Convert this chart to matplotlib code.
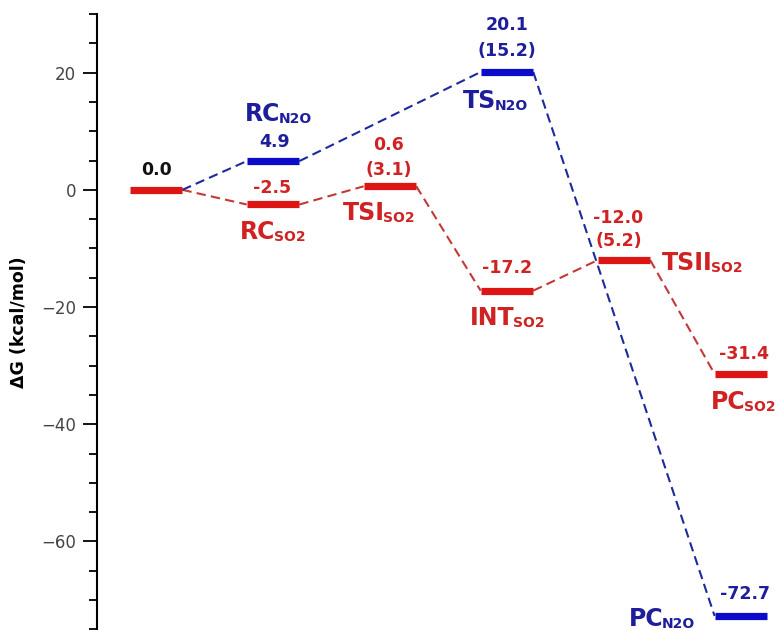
import matplotlib
matplotlib.use("Agg")
import matplotlib.pyplot as plt
from matplotlib.ticker import MultipleLocator
from matplotlib.offsetbox import TextArea, HPacker, AnnotationBbox

# free-energy profile, kcal/mol
so2_x = [0, 1, 2, 3, 4, 5]
so2_G = [0.0, -2.5, 0.6, -17.2, -12.0, -31.4]
n2o_x = [0, 1, 3, 5]
n2o_G = [0.0, 4.9, 20.1, -72.7]
so2_alt = {2: "(3.1)", 4: "(5.2)"}
n2o_alt = {3: "(15.2)"}

RED, BLUE = "#dd1515", "#0b0bcc"
RED_D, BLUE_D = "#c23a36", "#1c2a9c"
RED_T, BLUE_T = "#d02222", "#1e1e9c"
HW = 0.225

fig = plt.figure(figsize=(7.83, 6.30), dpi=100)
ax = fig.add_axes([97 / 783, 0.0, 1 - 97 / 783, 1 - 14 / 630])


def connect(xs, gs, color):
    for i in range(len(xs) - 1):
        ax.plot([xs[i] + HW, xs[i + 1] - HW], [gs[i], gs[i + 1]], color=color,
                lw=1.5, ls=(0, (4.5, 2.5)), zorder=2)


connect(so2_x, so2_G, RED_D)
connect(n2o_x, n2o_G, BLUE_D)
ax.hlines(so2_G, [x - HW for x in so2_x], [x + HW for x in so2_x], colors=RED,
          lw=5.2, capstyle="butt", zorder=3)
ax.hlines(n2o_G[1:], [x - HW for x in n2o_x[1:]], [x + HW for x in n2o_x[1:]],
          colors=BLUE, lw=5.2, capstyle="butt", zorder=3)


def txt(s, x, y, dx, dy, color, size=12.5, ha="center"):
    ax.annotate(s, (x, y), xytext=(dx, dy), textcoords="offset points", ha=ha,
                va="center", color=color, fontsize=size, fontweight="bold")


def name(base, sub, x, y, dx, dy, color, ha="center"):
    # big base letters with a small subscript, bottoms aligned
    parts = [TextArea(base, textprops=dict(color=color, fontsize=17, fontweight="bold")),
             TextArea(sub, textprops=dict(color=color, fontsize=10, fontweight="bold"))]
    box = HPacker(children=parts, align="bottom", pad=0, sep=-1)
    bx = {"center": 0.5, "left": 0.0, "right": 1.0}[ha]
    ax.add_artist(AnnotationBbox(box, (x, y), xybox=(dx, dy), boxcoords="offset points",
                                 box_alignment=(bx, 0.5), frameon=False, pad=0))


# energies
txt("0.0", 0, 0.0, 0, 14, "#111111")
txt("4.9", 1, 4.9, 1, 14, BLUE_T)
txt("-2.5", 1, -2.5, -1, 12, RED_T)
txt("0.6", 2, 0.6, -1, 30, RED_T)
txt(so2_alt[2], 2, 0.6, -1, 12, RED_T)
txt("20.1", 3, 20.1, 0, 34, BLUE_T)
txt(n2o_alt[3], 3, 20.1, 0, 15, BLUE_T)
txt("-17.2", 3, -17.2, 0, 16, RED_T)
txt("-12.0", 4, -12.0, -4, 30, RED_T)
txt(so2_alt[4], 4, -12.0, -4, 14, RED_T)
txt("-31.4", 5, -31.4, 2, 14, RED_T)
txt("-72.7", 5, -72.7, 3, 16, BLUE_T)

# state names
name("RC", "N2O", 1, 4.9, 4, 34, BLUE_T)
name("RC", "SO2", 1, -2.5, 0, -20, RED_T)
name("TSI", "SO2", 2, 0.6, -8, -19, RED_T)
name("TS", "N2O", 3, 20.1, -8, -21, BLUE_T)
name("INT", "SO2", 3, -17.2, 0, -20, RED_T)
name("TSII", "SO2", 4, -12.0, 27, -2, RED_T, ha="left")
name("PC", "SO2", 5, -31.4, 2, -20, RED_T)
name("PC", "N2O", 5, -72.7, -33, -2, BLUE_T, ha="right")

ax.set_xlim(-0.505, 5.36)
ax.set_ylim(-75.1, 30)
ax.yaxis.set_major_locator(MultipleLocator(20))
ax.yaxis.set_minor_locator(MultipleLocator(5))
ax.tick_params(axis="y", which="major", length=10, width=1.3, labelsize=12,
               labelcolor="#444444", pad=5)
ax.tick_params(axis="y", which="minor", length=6, width=1.3)
ax.set_xticks([])
for side in ("top", "right", "bottom"):
    ax.spines[side].set_visible(False)
ax.spines["left"].set_linewidth(1.5)
ax.set_ylabel("ΔG (kcal/mol)", fontsize=12.5, fontweight="bold")
ax.yaxis.set_label_coords(-0.10, 0.5)

fig.savefig("out.png", dpi=100)
